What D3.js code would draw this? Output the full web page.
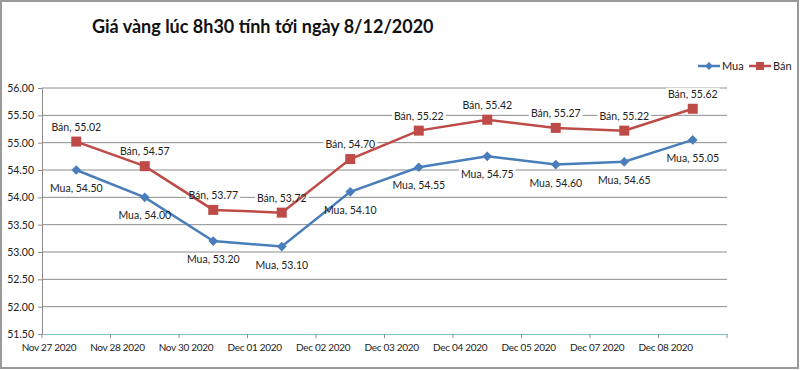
<!DOCTYPE html>
<html><head><meta charset="utf-8">
<script src="https://cdn.jsdelivr.net/npm/d3@7"></script>
<style>body{margin:0;background:#fff}svg{display:block}</style>
</head><body><svg id="c" width="800" height="370"></svg>
<script>
const categories = ["Nov 27 2020","Nov 28 2020","Nov 30 2020","Dec 01 2020","Dec 02 2020","Dec 03 2020","Dec 04 2020","Dec 05 2020","Dec 07 2020","Dec 08 2020"];
const mua = [54.50,54.00,53.20,53.10,54.10,54.55,54.75,54.60,54.65,55.05];
const ban = [55.02,54.57,53.77,53.72,54.70,55.22,55.42,55.27,55.22,55.62];
const yTicks = [51.5,52,52.5,53,53.5,54,54.5,55,55.5,56];
const seriesNames = ["Mua","Bán"];
const colors = ["#4a7ebb","#be4b48"];

const svg = d3.select("#c");
const font = "Lato, 'Open Sans', sans-serif";
svg.append("rect").attr("x",1).attr("y",1).attr("width",797).attr("height",367)
  .attr("fill","#fff").attr("stroke","#9a9a9a").attr("stroke-width",2);

const x = d3.scaleBand().domain(categories).range([42,727]);
const y = d3.scaleLinear().domain([51.5,56]).range([334,88]);
const cx = (i)=>x(categories[i])+x.bandwidth()/2;

// grid
svg.append("g").selectAll("line").data(yTicks.slice(1)).join("line")
  .attr("x1",42).attr("x2",727).attr("y1",d=>y(d)).attr("y2",d=>y(d))
  .attr("stroke","#8c8c8c").attr("stroke-width",1);

// y axis
const ya = svg.append("g").attr("transform","translate(42,0)")
  .call(d3.axisLeft(y).tickValues(yTicks).tickFormat(d3.format(".2f")).tickSize(4));
ya.select(".domain").attr("stroke","#8c8c8c");
ya.selectAll(".tick line").attr("stroke","#8c8c8c");
ya.selectAll("text").attr("font-family",font).attr("font-size",10.5).attr("fill","#222").attr("x",-8);

// x axis
const xa = svg.append("g").attr("transform",`translate(0,${y(51.5)})`)
  .call(d3.axisBottom(x).tickSize(0));
xa.select(".domain").attr("stroke","#7fc5cf").attr("stroke-width",1.2);
xa.selectAll(".tick text").attr("font-family",font).attr("font-size",10).attr("letter-spacing","-0.3px")
  .attr("fill","#222").attr("text-anchor","end").attr("x",0).attr("dy","1.4em");
// tick marks at category boundaries
svg.append("g").selectAll("line").data(categories.concat(["_end"])).join("line")
  .attr("x1",(d,i)=>42+i*x.bandwidth()).attr("x2",(d,i)=>42+i*x.bandwidth())
  .attr("y1",y(51.5)).attr("y2",y(51.5)+4).attr("stroke","#8c8c8c");

const bgLayer = svg.append("g");
const lineLayer = svg.append("g");
const markLayer = svg.append("g");
const textLayer = svg.append("g");

const line = d3.line().x((d,i)=>cx(i)).y(d=>y(d));
[mua, ban].forEach((s,k)=>{
  lineLayer.append("path").datum(s).attr("d",line).attr("fill","none")
    .attr("stroke",colors[k]).attr("stroke-width",2.5);
});
// markers
markLayer.append("g").selectAll("path").data(mua).join("path")
  .attr("d",d3.symbol(d3.symbolDiamond2,60)())
  .attr("transform",(d,i)=>`translate(${cx(i)},${y(d)})`)
  .attr("fill",colors[0]);
markLayer.append("g").selectAll("rect").data(ban).join("rect")
  .attr("x",(d,i)=>cx(i)-5).attr("y",d=>y(d)-5)
  .attr("width",10).attr("height",10).attr("fill",colors[1]);

// labels
function addLabels(data, name, dy){
  data.forEach((d,i)=>{
    const t = textLayer.append("text").attr("x",cx(i)).attr("y",y(d)+dy)
      .attr("text-anchor","middle").attr("font-family",font).attr("font-size",10.5)
      .attr("fill","#222").text(`${name}, ${d3.format(".2f")(d)}`);
    const bb = t.node().getBBox();
    bgLayer.append("rect").attr("x",bb.x-2).attr("y",bb.y).attr("width",bb.width+4).attr("height",bb.height).attr("fill","#fff");
  });
}
addLabels(ban, "Bán", -11);
addLabels(mua, "Mua", 22);

// title
svg.append("text").attr("x",92).attr("y",33).attr("font-family",font).attr("font-weight","bold")
  .attr("font-size",18).attr("fill","#111").text("Giá vàng lúc 8h30 tính tới ngày 8/12/2020");

// legend
const lg = svg.append("g");
const leg = [{x:698,name:seriesNames[0]},{x:749,name:seriesNames[1]}];
leg.forEach((l,k)=>{
  lg.append("line").attr("x1",l.x).attr("x2",l.x+22).attr("y1",66).attr("y2",66).attr("stroke",colors[k]).attr("stroke-width",2.5);
  if(k===0) lg.append("path").attr("d",d3.symbol(d3.symbolDiamond2,40)()).attr("transform",`translate(${l.x+11},66)`).attr("fill",colors[k]);
  else lg.append("rect").attr("x",l.x+7).attr("y",62).attr("width",8).attr("height",8).attr("fill",colors[k]);
  lg.append("text").attr("x",l.x+24).attr("y",70).attr("font-family",font).attr("font-size",11).attr("fill","#222").text(l.name);
});
</script></body></html>
